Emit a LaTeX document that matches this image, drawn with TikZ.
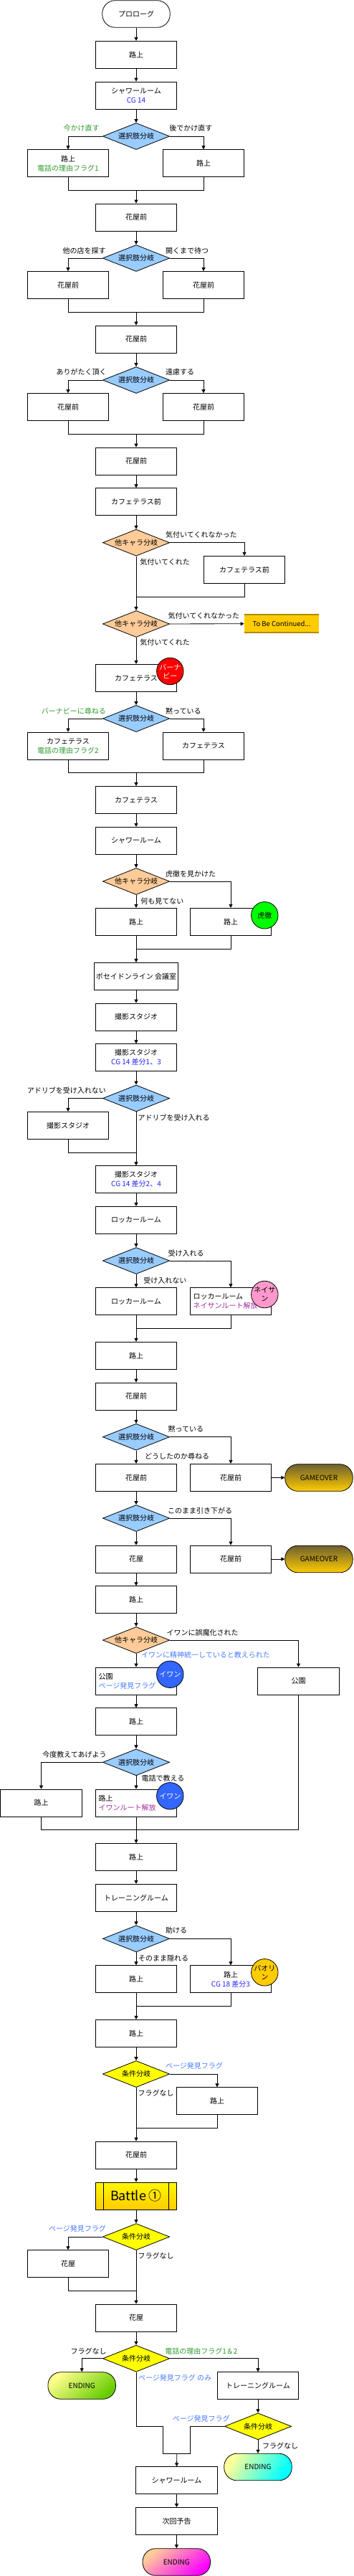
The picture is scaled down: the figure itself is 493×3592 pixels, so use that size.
\documentclass[tikz,border=0pt]{standalone}
\usepackage{fontspec}
\setmainfont{Noto Sans CJK JP}
\usetikzlibrary{shapes.geometric,arrows.meta,positioning}

\definecolor{selblue}{HTML}{99CCFF}
\definecolor{charorange}{HTML}{FFCC99}
\definecolor{condyellow}{HTML}{FFFF00}
\definecolor{cgblue}{HTML}{2424FF}
\definecolor{pageblue}{HTML}{4A7BFF}
\definecolor{flaggreen}{HTML}{2E9A2E}
\definecolor{routepurple}{HTML}{A030A0}
\definecolor{gold}{HTML}{FFCC00}
\definecolor{goldedge}{HTML}{B08A00}
\definecolor{darkolive}{HTML}{6E6030}
\definecolor{ivanblue}{HTML}{3366FF}
\definecolor{nathanpink}{HTML}{FF99CC}

\begin{document}
\begin{tikzpicture}[x=1pt, y=-1pt, thick, >={Triangle[length=5pt,width=5pt]},
    main/.style = {draw, fill=white, rectangle, minimum width=113.5pt, minimum height=38pt, inner sep=2pt, align=center, font=\fontsize{10}{13}\selectfont},
    mainleft/.style = {main, align=left, text width=105pt},
    branch/.style = {draw, diamond, aspect=2.52, minimum width=93.3pt, minimum height=37pt, inner sep=0pt, font=\fontsize{10}{12}\selectfont},
    sel/.style = {branch, fill=selblue},
    chara/.style = {branch, fill=charorange},
    cond/.style = {branch, fill=condyellow},
    term/.style = {draw, rectangle, rounded corners=18pt, minimum width=94.5pt, minimum height=37.6pt, font=\fontsize{10}{12}\selectfont},
    gameover/.style = {term, top color=darkolive, bottom color=gold},
    badge/.style = {draw, circle, minimum size=37.5pt, inner sep=0pt, align=center, font=\fontsize{10}{12}\selectfont},
    lbl/.style = {inner sep=0pt, font=\fontsize{10}{12}\selectfont}]
    \useasboundingbox (0,0) rectangle (493,3592);

    % prologue .. first choice
    \node[term, fill=white] (1) at (190,19.5) {プロローグ};
    \node[main] (2) at (190,76.3) {路上};
    \node[main] (3) at (190,133) {シャワールーム\\\textcolor{cgblue}{CG 14}};
    \node[sel] (4) at (190,190) {選択肢分岐};
    \node[main] (5) at (95,227.7) {路上\\\textcolor{flaggreen}{電話の理由フラグ1}};
    \node[main] (6) at (284,227.7) {路上};
    \coordinate (m1) at (190,265);
    \node[lbl, anchor=east, text=flaggreen] at (139,179) {今かけ直す};
    \node[lbl, anchor=west] at (236,179) {後でかけ直す};

    \node[main] (7) at (190,303) {花屋前};
    \node[sel] (8) at (190,360) {選択肢分岐};
    \node[main] (9) at (95,397.5) {花屋前};
    \node[main] (10) at (284,397.5) {花屋前};
    \coordinate (m2) at (190,435);
    \node[lbl, anchor=east] at (148,349.3) {他の店を探す};
    \node[lbl, anchor=west] at (230.7,349.3) {開くまで待つ};

    \node[main] (11) at (190,473) {花屋前};
    \node[sel] (12) at (190,530) {選択肢分岐};
    \node[main] (13) at (95,567.5) {花屋前};
    \node[main] (14) at (284,567.5) {花屋前};
    \coordinate (m3) at (190,605.3);
    \node[lbl, anchor=east] at (149,519) {ありがたく頂く};
    \node[lbl, anchor=west] at (230.7,519) {遠慮する};

    % cafe terrace
    \node[main] (15) at (190,643) {花屋前};
    \node[main] (16) at (190,699.7) {カフェテラス前};
    \node[chara] (17) at (190,756.7) {他キャラ分岐};
    \node[main] (18) at (341,794.3) {カフェテラス前};
    \coordinate (m4) at (190,832);
    \node[lbl, anchor=west] at (230.7,745.7) {気付いてくれなかった};
    \node[lbl, anchor=west] at (195,783.7) {気付いてくれた};

    \node[chara] (19) at (190,870) {他キャラ分岐};
    \node[fill=gold, minimum width=104pt, minimum height=24pt, inner sep=0pt, font=\fontsize{9.5}{12}\selectfont] (20) at (393,869.7) {To Be Continued...};
    \node[lbl, anchor=west] at (234.3,859) {気付いてくれなかった};
    \node[lbl, anchor=west] at (195,896) {気付いてくれた};

    \node[main] (21) at (190,945.3) {カフェテラス};
    \node[sel] (22) at (190,1002) {選択肢分岐};
    \node[main] (23) at (95,1040) {カフェテラス\\\textcolor{flaggreen}{電話の理由フラグ2}};
    \node[main] (24) at (284,1040) {カフェテラス};
    \coordinate (m5) at (190,1077.7);
    \node[lbl, anchor=east, text=flaggreen] at (148.3,991.3) {バーナビーに尋ねる};
    \node[lbl, anchor=west] at (230.7,991.3) {黙っている};

    \node[main] (25) at (190,1115.5) {カフェテラス};
    \node[main] (26) at (190,1172.3) {シャワールーム};
    \node[chara] (27) at (190,1229) {他キャラ分岐};
    \node[main] (28) at (190,1285.3) {路上};
    \node[main] (29) at (322,1285.3) {路上};
    \coordinate (m6) at (190,1323.3);
    \node[lbl, anchor=west] at (230.7,1218.7) {虎徹を見かけた};
    \node[lbl, anchor=west] at (196,1256.3) {何も見てない};

    % studio
    \node[main] (30) at (190,1361.3) {ポセイドンライン 会議室};
    \node[main] (31) at (190,1418) {撮影スタジオ};
    \node[main] (32) at (190,1474.7) {撮影スタジオ\\\textcolor{cgblue}{CG 14 差分1、3}};
    \node[sel] (33) at (190,1531.5) {選択肢分岐};
    \node[main] (34) at (95,1569.3) {撮影スタジオ};
    \coordinate (m7) at (190,1607);
    \node[lbl, anchor=east] at (148.3,1521) {アドリブを受け入れない};
    \node[lbl, anchor=west] at (192.3,1559) {アドリブを受け入れる};

    \node[main] (35) at (190,1644.7) {撮影スタジオ\\\textcolor{cgblue}{CG 14 差分2、4}};
    \node[main] (36) at (190,1701.3) {ロッカールーム};
    \node[sel] (37) at (190,1758) {選択肢分岐};
    \node[main] (38) at (190,1814.7) {ロッカールーム};
    \node[mainleft] (39) at (322,1814.7) {ロッカールーム\\\textcolor{routepurple}{ネイサンルート解放}};
    \coordinate (m8) at (190,1852.3);
    \node[lbl, anchor=west] at (234.3,1747.7) {受け入れる};
    \node[lbl, anchor=west] at (200,1785.3) {受け入れない};

    % flower shop
    \node[main] (40) at (190,1890.3) {路上};
    \node[main] (41) at (190,1947) {花屋前};
    \node[sel] (42) at (190,2003.7) {選択肢分岐};
    \node[main] (43) at (190,2060.3) {花屋前};
    \node[main] (44) at (322,2060.3) {花屋前};
    \node[gameover] (45) at (445,2060.5) {GAMEOVER};
    \node[lbl, anchor=west] at (234.3,1993) {黙っている};
    \node[lbl, anchor=west] at (201.7,2031) {どうしたのか尋ねる};

    \node[sel] (46) at (190,2117) {選択肢分岐};
    \node[main] (47) at (190,2174) {花屋};
    \node[main] (48) at (322,2174) {花屋前};
    \node[gameover] (49) at (445,2174) {GAMEOVER};
    \node[lbl, anchor=west] at (233.7,2106.7) {このまま引き下がる};

    % park
    \node[main] (50) at (190,2230.7) {路上};
    \node[chara] (51) at (190,2287) {他キャラ分岐};
    \node[mainleft] (52) at (190,2344) {公園\\\textcolor{pageblue}{ページ発見フラグ}};
    \node[main] (53) at (416.5,2344) {公園};
    \node[lbl, anchor=west] at (232.3,2276.7) {イワンに誤魔化された};
    \node[lbl, anchor=west, text=pageblue] at (196.7,2307.3) {イワンに精神統一していると教えられた};

    \node[main] (54) at (190,2400.7) {路上};
    \node[sel] (55) at (190,2457.3) {選択肢分岐};
    \node[main] (56) at (57.5,2514) {路上};
    \node[mainleft] (57) at (190,2514) {路上\\\textcolor{routepurple}{イワンルート解放}};
    \coordinate (m9) at (190,2551.7);
    \node[lbl, anchor=east] at (149,2447) {今度教えてあげよう};
    \node[lbl, anchor=west] at (197.3,2480) {電話で教える};

    % training room
    \node[main] (58) at (190,2589.7) {路上};
    \node[main] (59) at (190,2646.3) {トレーニングルーム};
    \node[sel] (60) at (190,2703.3) {選択肢分岐};
    \node[main] (61) at (190,2759.7) {路上};
    \node[main] (62) at (322,2759.7) {路上\\\textcolor{cgblue}{CG 18 差分3}};
    \coordinate (m10) at (190,2797.3);
    \node[lbl, anchor=west] at (230.7,2691.7) {助ける};
    \node[lbl, anchor=west] at (192.7,2731) {そのまま隠れる};

    \node[main] (63) at (190,2835.3) {路上};
    \node[cond] (64) at (190,2892) {条件分岐};
    \node[main] (65) at (303,2929.7) {路上};
    \coordinate (m11) at (190,2967.3);
    \node[lbl, anchor=west, text=pageblue] at (230.7,2880.3) {ページ発見フラグ};
    \node[lbl, anchor=west] at (192.3,2918.3) {フラグなし};

    % battle
    \node[main] (66) at (190,3005) {花屋前};
    \node[draw, rectangle, minimum width=113.5pt, minimum height=38pt, top color=yellow!85!gold, bottom color=gold, font=\fontsize{18}{20}\selectfont] (67) at (190,3062) {Battle ①};
    \node[cond] (68) at (190,3119) {条件分岐};
    \node[main] (69) at (95,3156.7) {花屋};
    \coordinate (m12) at (190,3194.3);
    \node[lbl, anchor=east, text=pageblue] at (148.3,3108) {ページ発見フラグ};
    \node[lbl, anchor=west] at (192.3,3146) {フラグなし};

    % endings
    \node[main] (70) at (190,3232) {花屋};
    \node[cond] (71) at (190,3288.7) {条件分岐};
    \node[term, top color=yellow!45!white, bottom color=green!50!yellow!80!black, shading angle=40] (72) at (114.2,3326.5) {ENDING};
    \node[main] (73) at (360,3326.7) {トレーニングルーム};
    \node[cond] (74) at (360,3383.3) {条件分岐};
    \node[term, top color=yellow!40!white, bottom color=cyan, shading angle=60] (75) at (360,3440) {ENDING};
    \coordinate (k1) at (227.7,3383.3);
    \coordinate (k2) at (265.3,3383.3);
    \coordinate (m13) at (246.7,3421.3);
    \node[main] (76) at (246.5,3458.8) {シャワールーム};
    \node[main] (77) at (246.5,3515.5) {次回予告};
    \node[term, top color=orange!40!white, bottom color=magenta, shading angle=40] (78) at (246.3,3572.5) {ENDING};
    \node[lbl, anchor=east] at (149,3278.3) {フラグなし};
    \node[lbl, anchor=west, text=flaggreen] at (230,3278.3) {電話の理由フラグ1＆2};
    \node[lbl, anchor=west, text=pageblue] at (192.7,3316) {ページ発見フラグ のみ};
    \node[lbl, anchor=east, text=pageblue] at (321,3372.7) {ページ発見フラグ};
    \node[lbl, anchor=west] at (365.7,3410.7) {フラグなし};

    % characters
    \node[badge, fill=red, text=white] (c1) at (237.3,936) {バーナ\\ビー};
    \node[badge, fill=green] (c2) at (369.3,1276.3) {虎徹};
    \node[badge, fill=nathanpink] (c3) at (369.3,1805) {ネイサ\\ン};
    \node[badge, fill=ivanblue, text=white] (c4) at (237.3,2334.7) {イワン};
    \node[badge, fill=ivanblue, text=white] (c5) at (237.3,2504.3) {イワン};
    \node[badge, fill=gold] (c6) at (369.3,2750.3) {パオリ\\ン};

    % extra lines on boxes
    \draw[goldedge, line width=2pt] (20.north west) -- (20.north east);
    \draw[goldedge, line width=2pt] (20.south west) -- (20.south east);
    \draw ([xshift=11.7pt]67.north west) -- ([xshift=11.7pt]67.south west);
    \draw ([xshift=-11.7pt]67.north east) -- ([xshift=-11.7pt]67.south east);

    % connectors
    \draw[->] (1) -- (2);
    \draw[->] (2) -- (3);
    \draw[->] (3) -- (4);
    \draw[->] (4) -| (5);
    \draw[->] (4) -| (6);
    \draw (5) |- (m1);
    \draw (6) |- (m1);
    \draw[->] (m1) -- (7);
    \draw[->] (7) -- (8);
    \draw[->] (8) -| (9);
    \draw[->] (8) -| (10);
    \draw (9) |- (m2);
    \draw (10) |- (m2);
    \draw[->] (m2) -- (11);
    \draw[->] (11) -- (12);
    \draw[->] (12) -| (13);
    \draw[->] (12) -| (14);
    \draw (13) |- (m3);
    \draw (14) |- (m3);
    \draw[->] (m3) -- (15);
    \draw[->] (15) -- (16);
    \draw[->] (16) -- (17);
    \draw[->] (17) -| (18);
    \draw (17) -- (m4);
    \draw (18) |- (m4);
    \draw[->] (m4) -- (19);
    \draw[->] (19) -- (20);
    \draw[->] (19) -- (21);
    \draw[->] (21) -- (22);
    \draw[->] (22) -| (23);
    \draw[->] (22) -| (24);
    \draw (23) |- (m5);
    \draw (24) |- (m5);
    \draw[->] (m5) -- (25);
    \draw[->] (25) -- (26);
    \draw[->] (26) -- (27);
    \draw[->] (27) -- (28);
    \draw[->] (27) -| (29);
    \draw (28) -- (m6);
    \draw (29) |- (m6);
    \draw[->] (m6) -- (30);
    \draw[->] (30) -- (31);
    \draw[->] (31) -- (32);
    \draw[->] (32) -- (33);
    \draw[->] (33) -| (34);
    \draw (33) -- (m7);
    \draw (34) |- (m7);
    \draw[->] (m7) -- (35);
    \draw[->] (35) -- (36);
    \draw[->] (36) -- (37);
    \draw[->] (37) -- (38);
    \draw[->] (37) -| (39);
    \draw (38) -- (m8);
    \draw (39) |- (m8);
    \draw[->] (m8) -- (40);
    \draw[->] (40) -- (41);
    \draw[->] (41) -- (42);
    \draw[->] (42) -- (43);
    \draw[->] (42) -| (44);
    \draw[->] (44) -- (45);
    \draw[->] (43) -- (46);
    \draw[->] (46) -- (47);
    \draw[->] (46) -| (48);
    \draw[->] (48) -- (49);
    \draw[->] (47) -- (50);
    \draw[->] (50) -- (51);
    \draw[->] (51) -- (52);
    \draw[->] (51) -| (53);
    \draw[->] (52) -- (54);
    \draw[->] (54) -- (55);
    \draw[->] (55) -| (56);
    \draw[->] (55) -- (57);
    \draw (56) |- (m9);
    \draw (57) -- (m9);
    \draw (53) |- (m9);
    \draw[->] (m9) -- (58);
    \draw[->] (58) -- (59);
    \draw[->] (59) -- (60);
    \draw[->] (60) -- (61);
    \draw[->] (60) -| (62);
    \draw (61) -- (m10);
    \draw (62) |- (m10);
    \draw[->] (m10) -- (63);
    \draw[->] (63) -- (64);
    \draw[->] (64) -| (65);
    \draw (64) -- (m11);
    \draw (65) |- (m11);
    \draw[->] (m11) -- (66);
    \draw[->] (66) -- (67);
    \draw[->] (67) -- (68);
    \draw[->] (68) -| (69);
    \draw (68) -- (m12);
    \draw (69) |- (m12);
    \draw[->] (m12) -- (70);
    \draw[->] (70) -- (71);
    \draw[->] (71) -| (72);
    \draw[->] (71) -| (73);
    \draw[->] (73) -- (74);
    \draw[->] (74) -- (75);
    \draw (71) |- (k1) |- (m13);
    \draw (74) -- (k2) |- (m13);
    \draw[->] (m13) -- (76);
    \draw[->] (76) -- (77);
    \draw[->] (77) -- (78);
\end{tikzpicture}
\end{document}
